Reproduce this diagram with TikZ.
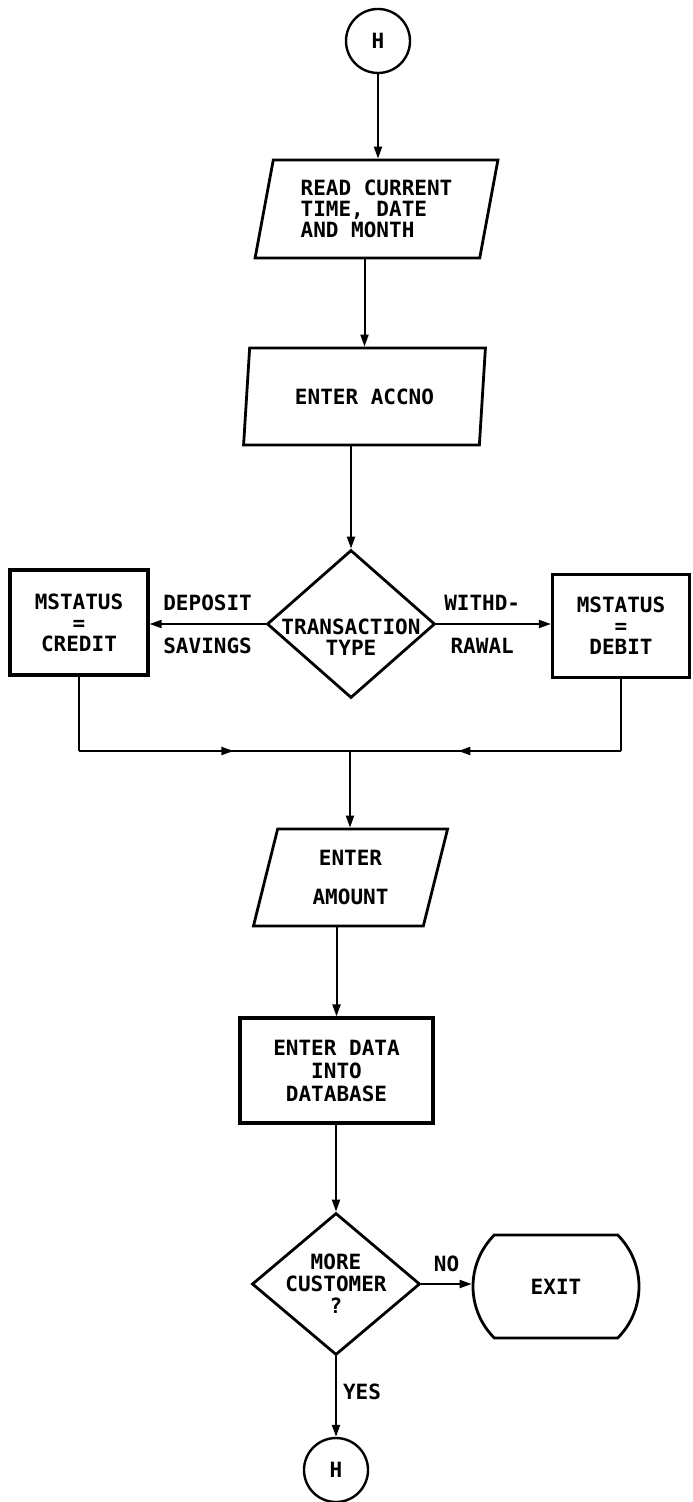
\documentclass[tikz,border=0pt]{standalone}
\usepackage{fontspec}
\newfontfamily\flowfont{DejaVu Sans Mono}
\usetikzlibrary{shapes.geometric,shapes.misc,arrows.meta,calc,decorations.markings}

\begin{document}
\begin{tikzpicture}[x=0.5pt, y=-0.5pt,
    txt/.style={font=\fontsize{10.5pt}{10.5pt}\selectfont\flowfont\bfseries, align=center, inner sep=0pt},
    connector/.style={line width=1pt, -{Triangle[length=6pt,width=4pt]}},
    terminal/.style={txt, circle, draw, line width=1.2pt, minimum size=32pt},
    io/.style={txt, trapezium, trapezium left angle=77, trapezium right angle=103, trapezium stretches=true, draw, line width=1.4pt},
    process/.style={txt, rectangle, draw, line width=1.6pt},
    decision/.style={diamond, draw, line width=1.4pt, minimum width=84pt, minimum height=74pt, inner sep=0pt},
    exitbox/.style={txt, rounded rectangle, rounded rectangle arc length=90, draw, line width=1.4pt},
    midarrow/.style={postaction={decorate}, decoration={markings, mark=at position #1 with {\arrow{Triangle[length=6pt,width=4pt]}}}}]
    \useasboundingbox (0,0) rectangle (692,1502);

    % Main column
    \node[terminal] (start) at (378,41) {H};
    \node[io, align=left, minimum width=121.5pt, minimum height=49pt] (read) at (376.5,209) {READ CURRENT\\TIME, DATE\\AND MONTH};
    \node[io, minimum width=121.5pt, minimum height=48.5pt] (accno) at (364.5,396.5) {ENTER ACCNO};
    \node[decision] (trans) at (351,624) {};
    \node[txt] (transtext) at ([yshift=-6.5pt]trans.center) {TRANSACTION\\TYPE};

    % Branches
    \node[process, minimum width=69pt, minimum height=52.5pt] (credit) at (79,622.5) {MSTATUS\\=\\CREDIT};
    \node[process, minimum width=68.5pt, minimum height=51.5pt] (debit) at (621,626) {MSTATUS\\=\\DEBIT};
    \coordinate (join) at (350,751);

    \node[io, minimum width=97.5pt, minimum height=48.5pt] (amount) at (350.5,877.5) {ENTER\\[9pt]AMOUNT};
    \node[process, minimum width=96.5pt, minimum height=52.5pt] (data) at (336.5,1070.5) {ENTER DATA\\[1pt]INTO\\[1pt]DATABASE};
    \node[decision, minimum height=71pt] (more) at (336,1284) {};
    \node[txt] (moretext) at (more.center) {MORE\\[0.5pt]CUSTOMER\\[0.5pt]?};
    \node[exitbox, minimum width=83pt, minimum height=51.5pt] (exit) at (556,1286.5) {EXIT};
    \node[terminal] (again) at (336,1470) {H};

    % Connectors
    \draw[connector] (start.south) -- (start.south |- read.north);
    \draw[connector] (read.south -| accno) -- (accno.north -| accno);
    \draw[connector] (accno.south -| trans) -- (trans.north);
    \draw[connector] (trans.west) -- (trans.west -| credit.east)
        node[txt, midway, yshift=10.5pt] (deplabel) {DEPOSIT}
        node[txt, midway, yshift=-11pt] (savlabel) {SAVINGS};
    \draw[connector] (trans.east) -- (trans.east -| debit.west)
        node[txt, pos=0.4, yshift=10.5pt] (withlabel) {WITHD-}
        node[txt, pos=0.4, yshift=-11pt] (rawlabel) {RAWAL};

    % Merge of both branches
    \draw[line width=1pt] (credit.south) -- (credit.south |- join);
    \draw[line width=1pt, midarrow=0.57] (credit.south |- join) -- (join);
    \draw[line width=1pt] (debit.south) -- (debit.south |- join);
    \draw[line width=1pt, midarrow=0.6] (debit.south |- join) -- (join);
    \draw[connector] (join) -- (join |- amount.north);

    \draw[connector] (amount.south -| data) -- (data.north);
    \draw[connector] (data.south -| more) -- (more.north);
    \draw[connector] (more.east) -- (more.east -| exit.west)
        node[txt, midway, yshift=10pt] (nolabel) {NO};
    \draw[connector] (more.south) -- (again.north)
        node[txt, midway, right=3pt, yshift=2.5pt] (yeslabel) {YES};
\end{tikzpicture}
\end{document}
